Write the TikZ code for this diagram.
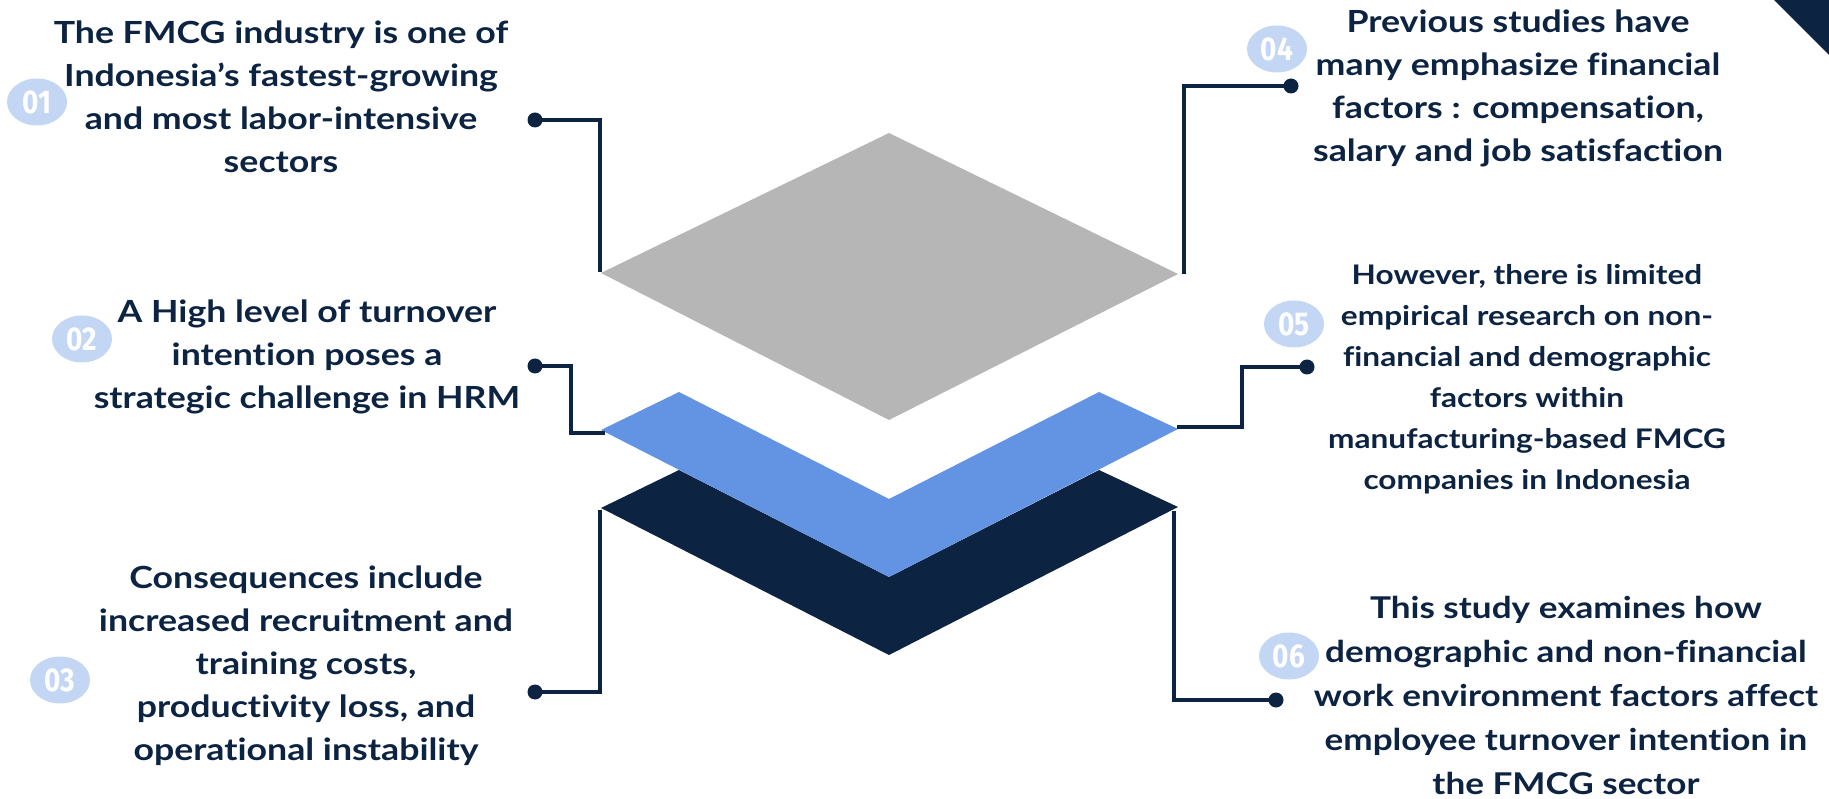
\documentclass[tikz,border=0pt]{standalone}
\usepackage{fontspec}
\setmainfont{Lato}[FakeStretch=1.17, Ligatures={NoCommon}]
\newfontfamily\numfont{Fira Sans}[FakeStretch=0.85]
\usetikzlibrary{shapes.geometric}
\definecolor{navy}{HTML}{0C2342}
\definecolor{layergray}{HTML}{B6B6B6}
\definecolor{layerblue}{HTML}{6394E3}
\definecolor{badge}{HTML}{C3D6F4}
\tikzset{
  txt/.style={align=center, text=navy, inner sep=0pt, font=\fontsize{30.5}{43}\selectfont\bfseries},
  numbadge/.style={ellipse, fill=badge, minimum width=60pt, minimum height=47pt, inner sep=0pt, text=white, font=\fontsize{33}{33}\selectfont\numfont\bfseries},
  dot/.style={circle, fill=navy, minimum size=15pt, inner sep=0pt},
  link/.style={draw=navy, line width=4pt}
}
\begin{document}
\begin{tikzpicture}[x=1pt,y=-1pt]
\useasboundingbox (0,0) rectangle (1829,799);
% decorative corner
\draw[gray!15, line width=2pt, dashed, dash pattern=on 30pt off 6pt] (1625,-5) arc[start angle=180, end angle=360, x radius=150, y radius=150];
\fill[navy] (1774,0) -- (1829,0) -- (1829,55) -- cycle;
% layers
\coordinate (gL) at (601,273); \coordinate (gT) at (889,133); \coordinate (gR) at (1178,274); \coordinate (gB) at (889,420);
\fill[layergray] (gL) -- (gT) -- (gR) -- (gB) -- cycle;
\coordinate (dL) at (601,508); \coordinate (dR) at (1178,507);
\fill[navy] (dL) -- (679,470) -- (889,577) -- (1099,470) -- (dR) -- (889,655) -- cycle;
\coordinate (bL) at (601,430); \coordinate (bR) at (1178,429);
\fill[layerblue] (bL) -- (679,392) -- (889,499) -- (1099,392) -- (bR) -- (889,577) -- cycle;
% badges
\node[numbadge] (n1) at (37,102) {01};
\node[numbadge] (n2) at (82,339) {02};
\node[numbadge] (n3) at (60,680) {03};
\node[numbadge] (n4) at (1277,49) {04};
\node[numbadge] (n5) at (1294,324) {05};
\node[numbadge] (n6) at (1289,656) {06};
% texts
\node[txt] (t1) at (281,97) {The FMCG industry is one of\\Indonesia’s fastest-growing\\and most labor-intensive\\sectors};
\node[txt] (t2) at (307,357) {A High level of turnover\\intention poses a\\strategic challenge in HRM};
\node[txt] (t3) at (306,666) {Consequences include\\increased recruitment and\\training costs,\\productivity loss, and\\operational instability};
\node[txt] (t4) at (1518,88) {Previous studies have\\many emphasize financial\\factors : compensation,\\salary and job satisfaction};
\node[txt, font=\fontsize{27}{41}\selectfont\bfseries] (t5) at (1527,379) {However, there is limited\\empirical research on non-\\financial and demographic\\factors within\\manufacturing-based FMCG\\companies in Indonesia};
\node[txt, font=\fontsize{30}{44}\selectfont\bfseries] (t6) at (1566,695) {This study examines how\\demographic and non-financial\\work environment factors affect\\employee turnover intention in\\the FMCG sector};
% dots
\node[dot] (d1) at (535,120) {};
\node[dot] (d2) at (535,366) {};
\node[dot] (d3) at (535,692) {};
\node[dot] (d4) at (1291,86) {};
\node[dot] (d5) at (1307,367) {};
\node[dot] (d6) at (1276,700) {};
% connectors
\draw[link] (d1.center) -| (600,272);
\draw[link] (d2.center) -| (571,433) -- (605,433);
\draw[link] (d3.center) -| (600,510);
\draw[link] (d4.center) -| (1184,274);
\draw[link] (d5.center) -| (1242,427) -- (1177,427);
\draw[link] (d6.center) -| (1174,511);
\end{tikzpicture}
\end{document}
